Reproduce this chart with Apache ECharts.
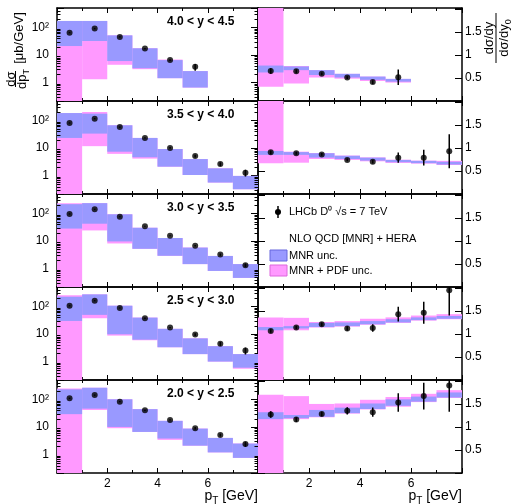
<!DOCTYPE html>
<html>
<head>
<meta charset="utf-8">
<script src="https://cdn.jsdelivr.net/npm/echarts@6/dist/echarts.min.js"></script>
<style>
html, body { margin: 0; padding: 0; background: #fff; }
#chart { width: 516px; height: 504px; }
</style>
</head>
<body>
<div id="chart"></div>
<script>
// rapidity bins, top row first
const rapidity = ['4.0 < y < 4.5', '3.5 < y < 4.0', '3.0 < y < 3.5', '2.5 < y < 3.0', '2.0 < y < 2.5'];
const binEdges = [0, 1, 2, 3, 4, 5, 6, 7, 8];
// minor ticks of the log axis
const logMinor = [0.3, 0.4, 0.5, 0.6, 0.7, 0.8, 0.9, 2, 3, 4, 5, 6, 7, 8, 9,
  20, 30, 40, 50, 60, 70, 80, 90, 200, 300, 400];

// dsigma/dpT [ub/GeV], LHCb D0 data
const sigma = [
  [64, 90, 45, 17, 6.5, 3.7],
  [80, 115, 57, 23, 10, 5.1, 2.6, 1.27],
  [95, 140, 75, 34, 15.5, 6.7, 3.2, 1.33],
  [105, 160, 87, 37, 17, 9.5, 4.4, 2.5],
  [109, 142, 82, 40, 18, 9, 5.1, 2.4]
];
const sigmaErr = [
  [3, 5, 2, 0.8, 0.5, 1.0],
  [4, 6, 3, 1.2, 0.7, 0.6, 0.4, 0.35],
  [5, 7, 3, 1.5, 0.7, 0.4, 0.3, 0.2],
  [5, 8, 4, 2, 1, 1, 0.7, 0.7],
  [6, 8, 4, 2, 1, 0.9, 0.6, 0.5]
];
// MNR unc. band
const mnrLo = [
  [21, 32, 6.0, 3.3, 1.44, 0.66],
  [23, 33, 7.3, 4.6, 2.1, 1.05, 0.56, 0.32],
  [28, 42, 9.6, 5.2, 2.9, 1.45, 0.82, 0.46],
  [29.6, 49, 9.7, 6.2, 3.3, 1.86, 1.0, 0.6],
  [29, 46, 10, 6.6, 3.8, 2.1, 1.2, 0.76]
];
const mnrHi = [
  [170, 170, 51, 17.4, 6.5, 2.6],
  [183, 174, 66, 23, 9.1, 3.95, 1.82, 0.97],
  [214, 233, 92, 30, 12.8, 5.75, 2.86, 1.45],
  [222, 270, 105, 39, 15.3, 6.9, 3.6, 1.86],
  [229, 262, 100, 44, 16.6, 8.7, 4.0, 2.5]
];
// MNR + PDF unc. band
const pdfLo = [
  [0.05, 1.33, 4.4, 3.05, 1.44, 0.66],
  [0.05, 11.6, 6.1, 4.1, 2.1, 1.05, 0.56, 0.32],
  [0.05, 24, 8.1, 5.2, 2.9, 1.45, 0.82, 0.46],
  [0.05, 37, 8.7, 5.9, 3.3, 1.86, 1.0, 0.55],
  [0.05, 41, 9.0, 6.6, 3.4, 2.1, 1.2, 0.76]
];
const pdfHi = [
  [170, 170, 51, 17.4, 6.8, 2.6],
  [183, 200, 66, 23, 9.1, 3.95, 1.82, 0.97],
  [233, 233, 92, 30, 12.8, 5.75, 2.86, 1.45],
  [250, 270, 105, 39, 15.3, 6.9, 3.6, 1.86],
  [247, 262, 100, 44, 16.6, 8.7, 4.0, 2.5]
];

// ratio to the 3.0 < y < 3.5 bin (that row holds the legend)
const ratio = [
  [0.65, 0.645, 0.59, 0.51, 0.41, 0.515],
  [0.905, 0.885, 0.86, 0.74, 0.70, 0.79, 0.79, 0.93],
  null,
  [1.065, 1.14, 1.21, 1.12, 1.13, 1.43, 1.46, 1.95],
  [1.27, 1.16, 1.28, 1.35, 1.32, 1.53, 1.67, 1.90]
];
const ratioErr = [
  [0.06, 0.04, 0.03, 0.03, 0.04, 0.17],
  [0.04, 0.03, 0.03, 0.03, 0.04, 0.11, 0.17, 0.37],
  null,
  [0.04, 0.04, 0.04, 0.05, 0.08, 0.16, 0.24, 0.55],
  [0.07, 0.05, 0.05, 0.08, 0.10, 0.20, 0.29, 0.57]
];
const rMnrLo = [
  [0.62, 0.67, 0.565, 0.51, 0.46, 0.42],
  [0.85, 0.85, 0.79, 0.76, 0.725, 0.69, 0.67, 0.64],
  null,
  [1.08, 1.12, 1.15, 1.17, 1.21, 1.25, 1.30, 1.33],
  [1.17, 1.19, 1.22, 1.30, 1.39, 1.46, 1.55, 1.64]
];
const rMnrHi = [
  [0.77, 0.75, 0.67, 0.59, 0.53, 0.48],
  [0.935, 0.91, 0.885, 0.83, 0.79, 0.74, 0.72, 0.70],
  null,
  [1.15, 1.17, 1.24, 1.25, 1.28, 1.32, 1.36, 1.39],
  [1.32, 1.26, 1.37, 1.42, 1.51, 1.60, 1.66, 1.75]
];
const rPdfLo = [
  [0.31, 0.38, 0.51, 0.485, 0.435, 0.40],
  [0.67, 0.68, 0.76, 0.74, 0.71, 0.675, 0.66, 0.63],
  null,
  [-1, 1.08, 1.14, 1.16, 1.20, 1.24, 1.29, 1.32],
  [-1, 1.17, 1.21, 1.29, 1.38, 1.44, 1.54, 1.63]
];
const rPdfHi = [
  [3, 0.76, 0.67, 0.59, 0.53, 0.48],
  [3, 0.92, 0.89, 0.835, 0.795, 0.745, 0.725, 0.72],
  null,
  [1.36, 1.35, 1.26, 1.28, 1.33, 1.36, 1.40, 1.43],
  [1.70, 1.67, 1.50, 1.51, 1.59, 1.65, 1.72, 1.80]
];

const BLUE = '#9999ff', PINK = '#ff99ff';
const FONT = '"Liberation Sans", Arial, sans-serif';
const ROW_TOP = 8, ROW_H = 93;

function bandItem(params, api) {
  const a = api.coord([api.value(0), api.value(3)]);
  const b = api.coord([api.value(1), api.value(2)]);
  const r = echarts.graphic.clipRectByRect(
    { x: a[0], y: a[1], width: b[0] - a[0], height: b[1] - a[1] }, params.coordSys);
  if (!r) return null;
  return { type: 'rect', shape: r, style: { fill: api.visual('color') } };
}

function errItem(params, api) {
  const x = api.value(0), v = api.value(1), e = api.value(2);
  const a = api.coord([x, Math.max(v - e, 1e-3)]);
  const b = api.coord([x, v + e]);
  const p = echarts.graphic.clipPointsByRect([a, b], params.coordSys);
  return { type: 'line', shape: { x1: p[0][0], y1: p[0][1], x2: p[1][0], y2: p[1][1] },
    style: { stroke: '#000', lineWidth: 1.5 } };
}

// minor log ticks on both sides of a left panel
function minorTickItem(params, api) {
  const cs = params.coordSys;
  const y = Math.round(api.coord([0, api.value(0)])[1]) + 0.5;
  return { type: 'group', children: [
    { type: 'line', shape: { x1: cs.x, y1: y, x2: cs.x + 3.5, y2: y }, style: { stroke: '#000', lineWidth: 1 } },
    { type: 'line', shape: { x1: cs.x + cs.width - 3.5, y1: y, x2: cs.x + cs.width, y2: y }, style: { stroke: '#000', lineWidth: 1 } }
  ] };
}

function logLabel(v) {
  const l = Math.log10(v);
  if (Math.abs(l - Math.round(l)) > 1e-6) return '';
  const n = Math.round(l);
  return n === 2 ? '10²' : n === 1 ? '10' : n === 0 ? '1' : '';
}

const line = { show: true, onZero: false, lineStyle: { color: '#000', width: 1.5 } };
const label = { color: '#000', fontFamily: FONT, fontSize: 12 };

const grids = [], xAxes = [], yAxes = [], series = [];

for (let r = 0; r < 5; r++) {
  const top = ROW_TOP + r * ROW_H;
  const bottomRow = r === 4;
  grids.push({ left: 57, top: top, width: 201, height: ROW_H });
  grids.push({ left: 258, top: top, width: 204, height: ROW_H });

  for (let side = 0; side < 2; side++) {
    const g = 2 * r + side;
    ['bottom', 'top'].forEach(function (pos) {
      xAxes.push({
        type: 'value', gridIndex: g, position: pos, min: 0, max: 8, interval: 2,
        axisLine: line,
        axisTick: { show: true, inside: true, length: 5, lineStyle: { color: '#000' } },
        minorTick: { show: true, splitNumber: 2, length: 3, lineStyle: { color: '#000' } },
        splitLine: { show: false },
        axisLabel: Object.assign({
          show: bottomRow && pos === 'bottom', margin: 5,
          formatter: function (v) { return (v === 0 || v === 8) ? '' : String(v); }
        }, label)
      });
    });
    const posMain = side === 0 ? 'left' : 'right';
    const posMirror = side === 0 ? 'right' : 'left';
    [posMain, posMirror].forEach(function (pos) {
      const showLab = pos === posMain;
      if (side === 0) {
        yAxes.push({
          type: 'log', logBase: 10, gridIndex: g, position: pos, min: 0.215, max: 500,
          axisLine: line,
          axisTick: { show: true, inside: true, length: 7, lineStyle: { color: '#000' } },
          minorTick: { show: false },
          splitLine: { show: false }, minorSplitLine: { show: false },
          axisLabel: Object.assign({ show: showLab, margin: 8, formatter: logLabel }, label)
        });
      } else {
        yAxes.push({
          type: 'value', gridIndex: g, position: pos, min: 0, max: 2.02, interval: 0.5,
          axisLine: line,
          axisTick: { show: true, inside: true, length: 7, lineStyle: { color: '#000' } },
          splitLine: { show: false },
          axisLabel: Object.assign({
            show: showLab, margin: 3,
            formatter: function (v) { return (v > 0 && v < 2) ? String(v) : ''; }
          }, label)
        });
      }
    });
  }

  // left panel: cross section
  const gL = 2 * r;
  const n = sigma[r].length;
  const pdfBand = [], mnrBand = [], pts = [], errs = [];
  for (let i = 0; i < n; i++) {
    const x0 = binEdges[i], x1 = binEdges[i + 1], xc = (x0 + x1) / 2;
    pdfBand.push([x0, x1, pdfLo[r][i], pdfHi[r][i]]);
    mnrBand.push([x0, x1, mnrLo[r][i], mnrHi[r][i]]);
    pts.push([xc, sigma[r][i]]);
    errs.push([xc, sigma[r][i], sigmaErr[r][i]]);
  }
  const ax = { xAxisIndex: 2 * gL, yAxisIndex: 2 * gL };
  series.push(Object.assign({ type: 'custom', renderItem: bandItem, data: pdfBand, itemStyle: { color: PINK }, z: 1 }, ax));
  series.push(Object.assign({ type: 'custom', renderItem: bandItem, data: mnrBand, itemStyle: { color: BLUE }, z: 2 }, ax));
  series.push(Object.assign({ type: 'custom', renderItem: errItem, data: errs, z: 3 }, ax));
  series.push(Object.assign({ type: 'scatter', data: pts, symbolSize: 6, itemStyle: { color: '#000' }, z: 4 }, ax));
  series.push(Object.assign({ type: 'custom', renderItem: minorTickItem, data: logMinor.map(function (v) { return [v]; }),
    encode: { y: 0 }, z: 5, silent: true }, ax));

  // right panel: ratio
  if (ratio[r]) {
    const gR = 2 * r + 1;
    const rp = [], rm = [], rpts = [], rerr = [];
    for (let i = 0; i < ratio[r].length; i++) {
      const x0 = binEdges[i], x1 = binEdges[i + 1], xc = (x0 + x1) / 2;
      rp.push([x0, x1, rPdfLo[r][i], rPdfHi[r][i]]);
      rm.push([x0, x1, rMnrLo[r][i], rMnrHi[r][i]]);
      rpts.push([xc, ratio[r][i]]);
      rerr.push([xc, ratio[r][i], ratioErr[r][i]]);
    }
    const axR = { xAxisIndex: 2 * gR, yAxisIndex: 2 * gR };
    series.push(Object.assign({ type: 'custom', renderItem: bandItem, data: rp, itemStyle: { color: PINK }, z: 1 }, axR));
    series.push(Object.assign({ type: 'custom', renderItem: bandItem, data: rm, itemStyle: { color: BLUE }, z: 2 }, axR));
    series.push(Object.assign({ type: 'custom', renderItem: errItem, data: rerr, z: 3 }, axR));
    series.push(Object.assign({ type: 'scatter', data: rpts, symbolSize: 6, itemStyle: { color: '#000' }, z: 4 }, axR));
  }
}

const graphic = [];
rapidity.forEach(function (t, r) {
  graphic.push({ type: 'text', x: 167, y: ROW_TOP + r * ROW_H + 13.5, z: 10,
    style: { text: t, fill: '#000', font: 'bold 12px ' + FONT, textVerticalAlign: 'middle' } });
});

const subRich = {
  m: { fontFamily: FONT, fontSize: 13, lineHeight: 15, fill: '#000' },
  s: { fontFamily: FONT, fontSize: 9, lineHeight: 19, verticalAlign: 'bottom', fill: '#000' }
};
// y title, left
graphic.push(
  { type: 'text', x: 11, y: 79, rotation: Math.PI / 2,
    style: { text: 'dσ', fill: '#000', font: '13px ' + FONT, textAlign: 'center', textVerticalAlign: 'middle' } },
  { type: 'line', shape: { x1: 15.5, y1: 71, x2: 15.5, y2: 87 }, style: { stroke: '#000', lineWidth: 1 } },
  { type: 'text', x: 22, y: 79, rotation: Math.PI / 2,
    style: { text: '{m|dp}{s|T}', rich: subRich, textAlign: 'center', textVerticalAlign: 'middle' } },
  { type: 'text', x: 19, y: 38, rotation: Math.PI / 2,
    style: { text: '[μb/GeV]', fill: '#000', font: '13px ' + FONT, textAlign: 'center', textVerticalAlign: 'middle' } }
);
// y title, right
graphic.push(
  { type: 'text', x: 489, y: 38, rotation: Math.PI / 2,
    style: { text: 'dσ/dy', fill: '#000', font: '13px ' + FONT, textAlign: 'center', textVerticalAlign: 'middle' } },
  { type: 'line', shape: { x1: 496, y1: 13, x2: 496, y2: 63 }, style: { stroke: '#000', lineWidth: 1 } },
  { type: 'text', x: 504, y: 38, rotation: Math.PI / 2,
    style: { text: '{m|dσ/dy}{s|0}', rich: subRich, textAlign: 'center', textVerticalAlign: 'middle' } }
);
// x titles
const xRich = {
  m: { fontFamily: FONT, fontSize: 14, lineHeight: 16, fill: '#000' },
  s: { fontFamily: FONT, fontSize: 10, lineHeight: 21, verticalAlign: 'bottom', fill: '#000' }
};
[258, 462].forEach(function (xr) {
  graphic.push({ type: 'text', x: xr, y: 496, style: { text: '{m|p}{s|T}{m| [GeV]}', rich: xRich, textAlign: 'right', textVerticalAlign: 'middle' } });
});
// legend
const legFont = '11px ' + FONT;
graphic.push(
  { type: 'line', shape: { x1: 278, y1: 206, x2: 278, y2: 218 }, style: { stroke: '#000', lineWidth: 1.5 } },
  { type: 'circle', shape: { cx: 278, cy: 212, r: 3 }, style: { fill: '#000' } },
  { type: 'text', x: 289, y: 212, style: { text: 'LHCb D⁰ √s = 7 TeV', fill: '#000', font: legFont, textVerticalAlign: 'middle' } },
  { type: 'text', x: 289, y: 239, style: { text: 'NLO QCD [MNR] + HERA', fill: '#000', font: legFont, textVerticalAlign: 'middle' } },
  { type: 'rect', shape: { x: 270, y: 250, width: 17, height: 11 }, style: { fill: BLUE, stroke: '#6666dd', lineWidth: 1 } },
  { type: 'text', x: 289, y: 256, style: { text: 'MNR unc.', fill: '#000', font: legFont, textVerticalAlign: 'middle' } },
  { type: 'rect', shape: { x: 270, y: 265, width: 17, height: 11 }, style: { fill: PINK, stroke: '#dd66dd', lineWidth: 1 } },
  { type: 'text', x: 289, y: 271, style: { text: 'MNR + PDF unc.', fill: '#000', font: legFont, textVerticalAlign: 'middle' } }
);

const chart = echarts.init(document.getElementById('chart'));
chart.setOption({
  animation: false,
  backgroundColor: '#fff',
  grid: grids,
  xAxis: xAxes,
  yAxis: yAxes,
  series: series,
  graphic: graphic
});
</script>
</body>
</html>
